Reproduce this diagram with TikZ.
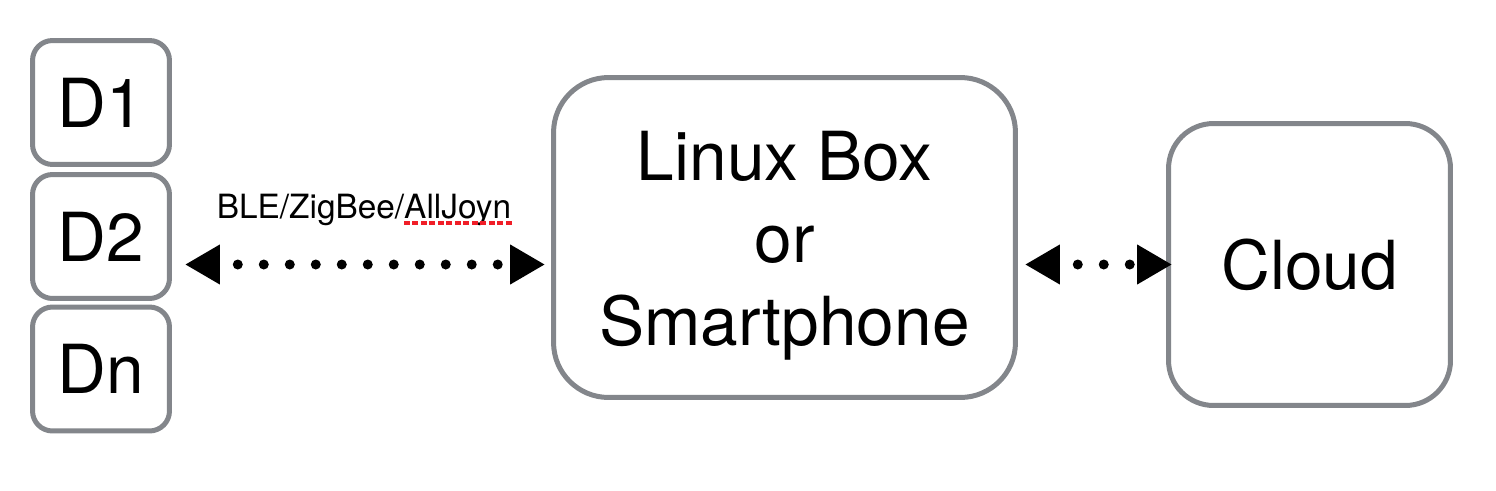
\documentclass[tikz,border=0pt]{standalone}
\usepackage{fontspec}
\setmainfont{TeX Gyre Heros}
\usetikzlibrary{arrows.meta}
\definecolor{boxgray}{RGB}{131,134,139}
\definecolor{spellred}{RGB}{240,30,40}
\tikzset{
  box/.style={draw=boxgray, line width=0.1cm, align=center, inner sep=0pt,
    font=\fontsize{38.5}{47}\selectfont},
  bigtri/.tip={Triangle[length=0.7cm,width=0.75cm]},
  link/.style={line width=0.2cm, line cap=round,
    dash pattern=on 0pt off 0.52cm, dash phase=0.12cm, bigtri-bigtri},
}

\begin{document}
\begin{tikzpicture}[x=0.02cm,y=-0.02cm]
  \useasboundingbox (0,0) rectangle (1496,490);
  % devices
  \node[box, rounded corners=0.4cm, minimum width=2.74cm, minimum height=2.48cm] (d1) at (101,102.5) {D1};
  \node[box, rounded corners=0.4cm, minimum width=2.74cm, minimum height=2.48cm] (d2) at (101,236.5) {D2};
  \node[box, rounded corners=0.4cm, minimum width=2.74cm, minimum height=2.48cm] (dn) at (101,369) {Dn};
  % gateway and cloud
  \node[box, rounded corners=1.1cm, minimum width=9.24cm, minimum height=6.4cm] (linux) at (784.5,237.5) {\rule{0pt}{1.31cm}Linux Box\\or\\Smartphone};
  \node[box, rounded corners=0.9cm, minimum width=5.64cm, minimum height=5.64cm] (cloud) at (1309.5,264.5) {Cloud};
  % links
  \node[font=\fontsize{19}{23}\selectfont, anchor=base, inner sep=0pt] (proto) at (364,218) {BLE/ZigBee/AllJoyn};
  \draw[spellred, line width=0.08cm, dash pattern=on 0.12cm off 0.05cm]
    ([yshift=-0.09cm]proto.base east) -- ++(-110,0);
  \draw[link] ([xshift=0.26cm]d2.east |- cloud.west) -- ([xshift=-0.12cm]linux.west |- cloud.west);
  \draw[link] ([xshift=0.14cm]linux.east |- cloud.west) -- ([xshift=0.12cm]cloud.west);
\end{tikzpicture}
\end{document}
